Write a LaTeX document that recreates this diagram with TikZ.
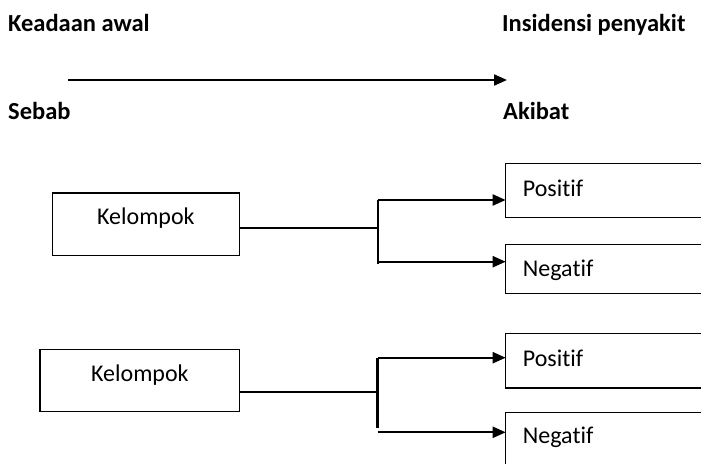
\documentclass[tikz,border=0pt]{standalone}
\usepackage{fontspec}
\setmainfont[RawFeature=-liga]{Carlito}
\usetikzlibrary{arrows.meta}
\begin{document}
\begin{tikzpicture}[x=1pt,y=-1pt,
  head/.style={font=\fontsize{24.5}{29}\selectfont\bfseries, anchor=base west, inner sep=0pt},
  flow/.style={line width=2.2pt, -{Triangle[length=13pt,width=11pt]}},
  wire/.style={line width=2.2pt},
  frame/.style={line width=1.4pt},
  grp/.style={draw, frame, font=\fontsize{24}{28}\selectfont,
    inner sep=0pt, minimum width=187pt, anchor=north west},
  res/.style={font=\fontsize{24}{28}\selectfont,
    inner ysep=0pt, inner xsep=17pt, text width=300pt, align=left, anchor=north west}
]
\useasboundingbox (0,0) rectangle (701,463);
\clip (0,0) rectangle (701,463);

% time axis
\node[head] (awal) at (8,31.7) {Keadaan awal};
\node[head] (insiden) at (502,31.7) {Insidensi penyakit};
\node[head] (sebab) at (8,119.3) {Sebab};
\node[head] (akibat) at (503,119.3) {Akibat};
\coordinate (t0) at (68,80);
\coordinate (t1) at (507,80);
\draw[flow] (t0) -- (t1);

% first group
\node[grp, text height=31.7pt, text depth=30.7pt] (k1) at (51.7,192.3) {Kelompok};
\node[res, text height=32.7pt, text depth=21.3pt] (p1) at (505.7,163.3) {Positif};
\node[res, text height=32.4pt, text depth=16.6pt] (n1) at (505.7,244.3) {Negatif};
\coordinate (s1) at (377.7,227.7);
\coordinate (s1top) at (377.7,200);
\coordinate (s1bot) at (377.7,264);
\coordinate (s1n) at (377.7,261.7);
\draw[wire] (k1.east |- s1) -- (s1);
\draw[wire] (s1top) -- (s1bot);
\draw[flow] (s1top) -- (s1top -| p1.west);
\draw[flow] (s1n) -- (s1n -| n1.west);

% second group
\node[grp, minimum width=199.7pt, text height=32.3pt, text depth=30pt] (k2) at (39.3,348.7) {Kelompok};
\node[res, text height=33.4pt, text depth=21pt] (p2) at (505.7,333.3) {Positif};
\node[res, text height=31pt, text depth=40pt] (n2) at (505.7,412.3) {Negatif};
\coordinate (s2) at (377.5,391.7);
\coordinate (s2top) at (377.5,357.7);
\coordinate (s2bot) at (377.5,428);
\coordinate (s2n) at (377.5,432.3);
\draw[wire] (k2.east |- s2) -- (s2);
\draw[wire] (s2top) -- (s2bot);
\draw[flow] (s2top) -- (s2top -| p2.west);
\draw[flow] (s2n) -- (s2n -| n2.west);

% result boxes run past the right margin: only three sides show
\foreach \b in {p1,n1,p2,n2}
  \draw[frame] (\b.north east) -- (\b.north west) -- (\b.south west) -- (\b.south east);
\end{tikzpicture}
\end{document}
